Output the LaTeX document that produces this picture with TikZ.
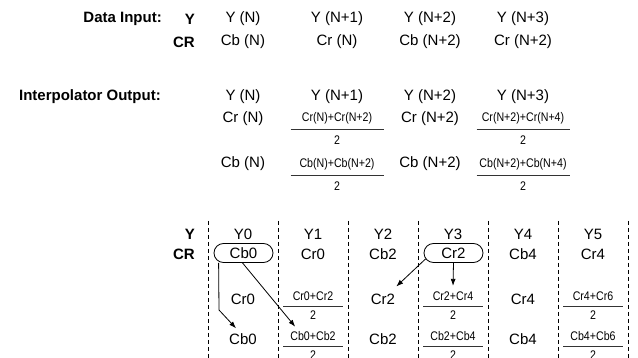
\documentclass[tikz,border=0pt]{standalone}
\usepackage{fontspec}
\setmainfont{Liberation Sans}
\newfontfamily\narrowfont[FakeStretch=0.85]{Liberation Sans}
\usetikzlibrary{arrows.meta}
\tikzset{
  txt/.style={font=\fontsize{15}{17}\selectfont, inner sep=0pt},
  lab/.style={font=\fontsize{15}{17}\selectfont\bfseries, inner sep=0pt, anchor=east},
  frac/.style={font=\narrowfont\fontsize{12.5}{14}\selectfont, inner sep=0pt},
  fracline/.style={line width=0.9pt, black!80},
  sepline/.style={dashed, dash pattern=on 4pt off 3pt, line width=0.8pt},
  pill/.style={draw, line width=0.8pt, rounded corners=9.5pt, minimum width=59pt, minimum height=19pt, inner sep=0pt, font=\fontsize{15}{17}\selectfont},
  arr/.style={line width=0.8pt, -{Latex[length=7pt,width=5pt]}}
}
\newcommand{\fracpair}[7]{%
  \node[frac] (#1n) at (#2,#3-#6) {#5};
  \node[frac] (#1d) at (#2,#3+#7) {2};
  \draw[fracline] (#2-#4,#3) -- (#2+#4,#3);
}
\begin{document}
\begin{tikzpicture}[x=1pt,y=-1pt]
\useasboundingbox (0,0) rectangle (638,358);
\clip (0,0) rectangle (638,358);
% ---------- Data input ----------
\node[lab] (di) at (162,19) {Data Input:};
\node[lab] (diY) at (195,19) {Y};
\node[lab] (diCR) at (195,42) {CR};
\node[txt] (d11) at (243,19) {Y (N)};
\node[txt] (d12) at (337,19) {Y (N+1)};
\node[txt] (d13) at (430,19) {Y (N+2)};
\node[txt] (d14) at (523,19) {Y (N+3)};
\node[txt] (d21) at (243,42) {Cb (N)};
\node[txt] (d22) at (337,42) {Cr (N)};
\node[txt] (d23) at (430,42) {Cb (N+2)};
\node[txt] (d24) at (523,42) {Cr (N+2)};
% ---------- Interpolator output ----------
\node[lab] (io) at (161,97) {Interpolator Output:};
\node[txt] (i11) at (243,97) {Y (N)};
\node[txt] (i12) at (337,97) {Y (N+1)};
\node[txt] (i13) at (430,97) {Y (N+2)};
\node[txt] (i14) at (523,97) {Y (N+3)};
\node[txt] (i21) at (243,119) {Cr (N)};
\fracpair{i22}{337}{129}{46.5}{Cr(N)+Cr(N+2)}{11}{11}
\node[txt] (i23) at (430,119) {Cr (N+2)};
\fracpair{i24}{523}{129}{46.5}{Cr(N+2)+Cr(N+4)}{11}{11}
\node[txt] (i31) at (243,164) {Cb (N)};
\fracpair{i32}{337}{175}{46.5}{Cb(N)+Cb(N+2)}{11}{11}
\node[txt] (i33) at (430,164) {Cb (N+2)};
\fracpair{i34}{523}{175}{46.5}{Cb(N+2)+Cb(N+4)}{11}{11}
% ---------- Grid ----------
\foreach \k in {0,...,6} {
  \draw[sepline] (208+70*\k,221) -- (208+70*\k,362);
}
\node[lab] (gY) at (195,234) {Y};
\node[lab] (gCR) at (195,254) {CR};
\node[txt] (g11) at (243,234) {Y0};
\node[txt] (g12) at (313,234) {Y1};
\node[txt] (g13) at (383,234) {Y2};
\node[txt] (g14) at (453,234) {Y3};
\node[txt] (g15) at (523,234) {Y4};
\node[txt] (g16) at (593,234) {Y5};
\node[pill] (g21) at (243.5,253) {Cb0};
\node[txt] (g22) at (313,254) {Cr0};
\node[txt] (g23) at (383,254) {Cb2};
\node[pill] (g24) at (453.5,253) {Cr2};
\node[txt] (g25) at (523,254) {Cb4};
\node[txt] (g26) at (593,254) {Cr4};
\node[txt] (g31) at (243,299) {Cr0};
\fracpair{g32}{313}{306}{30}{Cr0+Cr2}{9.5}{9.5}
\node[txt] (g33) at (383,299) {Cr2};
\fracpair{g34}{453}{306}{30}{Cr2+Cr4}{9.5}{9.5}
\node[txt] (g35) at (523,299) {Cr4};
\fracpair{g36}{593}{306}{30}{Cr4+Cr6}{9.5}{9.5}
\node[txt] (g41) at (243,339) {Cb0};
\fracpair{g42}{313}{346}{30}{Cb0+Cb2}{9.5}{9.5}
\node[txt] (g43) at (383,339) {Cb2};
\fracpair{g44}{453}{346}{30}{Cb2+Cb4}{9.5}{9.5}
\node[txt] (g45) at (523,339) {Cb4};
\fracpair{g46}{593}{346}{30}{Cb4+Cb6}{9.5}{9.5}
% ---------- Arrows ----------
\coordinate (bend) at (219,310);
\draw[arr] ([xshift=5pt]g21.south west) -- (bend) -- ([xshift=7pt,yshift=5pt]g41.north west);
\draw[arr] ([xshift=-1pt]g21.south) -- ([xshift=5pt,yshift=5pt]g42n.north west);
\draw[arr] ([xshift=2pt,yshift=4pt]g24.south west) -- ([xshift=1pt,yshift=7pt]g33.north east);
\draw[arr] (g24.south) -- ([yshift=6pt]g34n.north);
\end{tikzpicture}
\end{document}
